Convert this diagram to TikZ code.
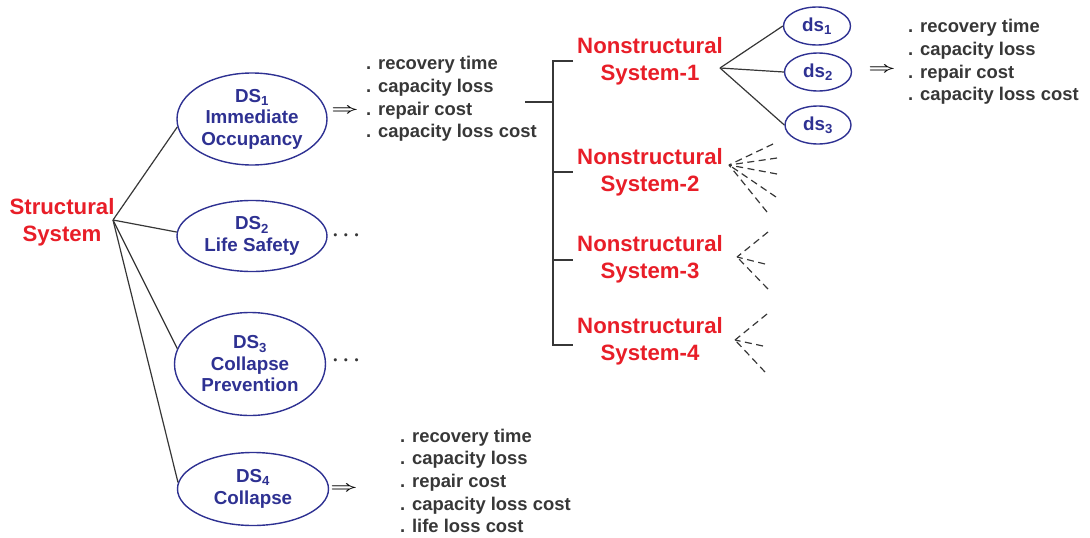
\documentclass[tikz,border=0pt]{standalone}
\usepackage{fontspec}
\usepackage{graphicx}
\setmainfont{Liberation Sans}
\usetikzlibrary{shapes.geometric}
\definecolor{sred}{RGB}{232,30,40}
\definecolor{sblue}{RGB}{46,49,146}
\definecolor{sgray}{RGB}{55,55,55}
\newcommand{\bigimp}{\scalebox{1.65}[1]{$\Rightarrow$}}
\tikzset{
  redtxt/.style={text=sred,font=\bfseries\fontsize{22.2}{27}\selectfont,align=center,inner sep=0},
  bluetxt/.style={text=sblue,font=\bfseries\fontsize{18.8}{21.5}\selectfont,align=center,inner sep=0},
  listtxt/.style={text=sgray,font=\bfseries\fontsize{18.4}{22.7}\selectfont,align=left,inner sep=0,anchor=west},
  dsell/.style={draw=sblue,line width=1.4pt,ellipse,inner sep=0,bluetxt},
  conn/.style={draw=sgray,line width=1.2pt},
  dconn/.style={draw=sgray,line width=1.2pt,dash pattern=on 7pt off 4.5pt},
  imp/.style={text=black,font=\fontsize{14.5}{15}\selectfont\boldmath,inner sep=0},
  dots/.style={text=sgray,font=\fontsize{20}{20}\selectfont\boldmath,inner sep=0},
}
\begin{document}
\begin{tikzpicture}[x=1pt,y=-1pt]
\useasboundingbox (0,0) rectangle (1090,538);
% main
\node[redtxt] (ss) at (62,222) {Structural\\System};
\coordinate (sso) at (113,220);
\node[dsell,minimum width=150,minimum height=92] (ds1) at (252,119) {DS\textsubscript{1}\\Immediate\\Occupancy};
\node[dsell,minimum width=150,minimum height=71] (ds2) at (252,236) {DS\textsubscript{2}\\Life Safety};
\node[dsell,minimum width=151,minimum height=103] (ds3) at (250,364) {DS\textsubscript{3}\\Collapse\\Prevention};
\node[dsell,minimum width=151,minimum height=73] (ds4) at (253,489) {DS\textsubscript{4}\\Collapse};
\draw[conn] (sso) -- (ds1.186);
\draw[conn] (sso) -- (ds2.177);
\draw[conn] (sso) -- (ds3.168);
\draw[conn] (sso) -- (ds4.175);
% DS1 results
\node[imp] (i1) at (345,111) {\bigimp};
\node[listtxt] (l1) at (366,99) {. recovery time\\. capacity loss\\. repair cost\\. capacity loss cost};
\node[dots] (dd2) at (346,236) {$\cdots$};
\node[dots] (dd3) at (346,361) {$\cdots$};
\node[imp] (i4) at (344,489) {\bigimp};
\node[listtxt] (l4) at (400,481) {. recovery time\\. capacity loss\\. repair cost\\. capacity loss cost\\. life loss cost};
% bracket
\coordinate (b0) at (525,102);
\coordinate (bv) at (553,102);
\coordinate (bt) at (553,61);
\coordinate (bb) at (553,345);
\coordinate (t1) at (573,61);
\coordinate (t2) at (573,172);
\coordinate (t3) at (573,260);
\coordinate (t4) at (573,345);
\draw[conn] (b0) -- (bv);
\draw[conn] (t1) -- (bt) -- (bb) -- (t4);
\draw[conn] (bt |- t2) -- (t2);
\draw[conn] (bt |- t3) -- (t3);
\node[redtxt] (n1) at (650,61) {Nonstructural\\System-1};
\node[redtxt] (n2) at (650,172.5) {Nonstructural\\System-2};
\node[redtxt] (n3) at (650,259) {Nonstructural\\System-3};
\node[redtxt] (n4) at (650,341.5) {Nonstructural\\System-4};
% ds of system 1
\coordinate (n1o) at (720,68);
\node[dsell,minimum width=67,minimum height=38] (e1) at (817,26) {ds\textsubscript{1}};
\node[dsell,minimum width=67,minimum height=38] (e2) at (818,72) {ds\textsubscript{2}};
\node[dsell,minimum width=66,minimum height=38] (e3) at (818,125) {ds\textsubscript{3}};
\draw[conn] (n1o) -- (e1.west);
\draw[conn] (n1o) -- (e2.west);
\draw[conn] (n1o) -- (e3.west);
\node[imp] (i5) at (882,70) {\bigimp};
\node[listtxt] (l5) at (908,62) {. recovery time\\. capacity loss\\. repair cost\\. capacity loss cost};
% dashed fans
\coordinate (n2o) at (729,165);
\coordinate (a1) at (773,144);
\coordinate (a2) at (777,158);
\coordinate (a3) at (777,174);
\coordinate (a4) at (776,197);
\coordinate (a5) at (767,212);
\foreach \p in {a1,a2,a3,a4,a5} \draw[dconn] (\p) -- (n2o);
\coordinate (n3o) at (737,257);
\coordinate (b1) at (768,232);
\coordinate (b2) at (765,264);
\coordinate (b3) at (768,289);
\foreach \p in {b1,b2,b3} \draw[dconn] (\p) -- (n3o);
\coordinate (n4o) at (735,340);
\coordinate (c1) at (767,314);
\coordinate (c2) at (763,346);
\coordinate (c3) at (765,372);
\foreach \p in {c1,c2,c3} \draw[dconn] (\p) -- (n4o);
\end{tikzpicture}
\end{document}
